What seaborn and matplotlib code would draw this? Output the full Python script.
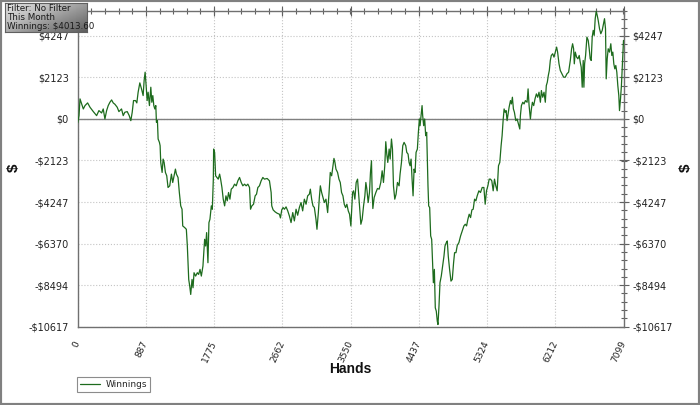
import numpy as np
import pandas as pd
import matplotlib
matplotlib.use("Agg")
import matplotlib.pyplot as plt
from matplotlib.ticker import FixedLocator, AutoMinorLocator
from matplotlib.patches import Rectangle
import seaborn as sns

# values (hands played, cumulative $ winnings)
hands = [0, 17, 30, 51, 73, 95, 129, 160, 203, 246, 276, 311, 332, 354, 376, 397, 419, 441,
         462, 484, 514, 536, 570, 592, 613, 644, 670, 691, 709, 726, 752, 769, 786, 808, 830,
         851, 864, 877, 890, 903, 916, 933, 951, 964, 977, 990, 1003, 1016, 1024, 1037, 1046,
         1063, 1072, 1080, 1098, 1111, 1124, 1141, 1158, 1175, 1197, 1219, 1236, 1253, 1271,
         1284, 1305, 1322, 1340, 1357, 1366, 1392, 1413,
         1426, 1444, 1457, 1470, 1487, 1500, 1513, 1534, 1556, 1573, 1591, 1608, 1629, 1651,
         1664, 1677, 1694, 1707, 1720, 1738, 1751, 1764, 1768, 1781, 1794, 1811, 1828, 1846,
         1859, 1876, 1893, 1911, 1928, 1945, 1962, 1980, 1997, 2019, 2040, 2062, 2083, 2105,
         2127, 2148, 2170, 2191, 2213, 2235, 2248, 2265, 2287, 2308, 2326, 2343, 2364, 2386,
         2408, 2429, 2464, 2494, 2516, 2524, 2542, 2568, 2594, 2624, 2637, 2654, 2671, 2689,
         2710, 2732, 2753, 2775, 2797, 2818, 2840, 2861, 2883,
         2905, 2926, 2948, 2970, 2991, 3013, 3026, 3043, 3060, 3078, 3099, 3112, 3130, 3143,
         3156, 3173, 3190, 3208, 3229, 3251, 3268, 3285, 3303, 3320, 3333, 3346, 3359, 3380,
         3398, 3415, 3432, 3450, 3467, 3484, 3501, 3519, 3536, 3553, 3562, 3575, 3588, 3605,
         3622, 3640, 3653, 3666, 3683, 3700, 3718, 3735, 3748, 3761, 3778, 3795, 3808, 3821,
         3830, 3839, 3856, 3878, 3899, 3921, 3942, 3960, 3977, 3994, 4007, 4020, 4033, 4051,
         4064, 4081, 4094, 4107, 4124, 4141, 4159, 4180, 4193, 4211, 4228, 4245,
         4267, 4280, 4297, 4310, 4323, 4336, 4349, 4362, 4375, 4388, 4401, 4418, 4431, 4444,
         4453, 4466, 4479, 4487, 4500, 4513, 4526, 4539, 4548, 4556, 4565, 4578, 4591, 4604,
         4617, 4626, 4639, 4651, 4664, 4677, 4686, 4699, 4712, 4729, 4747, 4764, 4777, 4794,
         4807, 4820, 4837, 4855, 4872, 4889, 4902, 4920, 4937, 4958, 4980, 5002, 5023, 5041,
         5058, 5075, 5092, 5110, 5127, 5144, 5162, 5179, 5196, 5218, 5239, 5261, 5283, 5300,
         5317, 5335, 5352, 5369, 5386, 5404, 5421, 5438, 5456, 5473, 5490, 5507, 5520, 5533,
         5546, 5559, 5572, 5585, 5598, 5611, 5629, 5641, 5654, 5667, 5680,
         5698, 5715, 5732, 5750, 5758, 5771, 5789, 5806, 5823, 5845, 5858, 5871, 5888, 5901,
         5914, 5931, 5948, 5966, 5983, 6000, 6018, 6031, 6048, 6065, 6082, 6095, 6108, 6121,
         6134, 6147, 6160, 6178, 6195, 6212, 6229, 6242, 6260, 6277, 6299, 6320, 6342, 6363,
         6385, 6407, 6424, 6437, 6450, 6459, 6472, 6489, 6506, 6523, 6536, 6549, 6562, 6575,
         6584, 6593, 6606, 6623, 6640, 6653, 6666, 6679, 6692, 6705, 6718, 6731, 6744, 6757,
         6770, 6787, 6804, 6822, 6839, 6852, 6865, 6874, 6887, 6900, 6917, 6934, 6947, 6960,
         6973, 6986, 6999, 7012, 7025, 7038, 7047, 7060, 7072, 7099]

winnings = [-200, 169, 1023, 766, 510, 681, 818, 596, 374, 169, 425, 305, 510, -2, 425, 681, 852,
            971, 818, 749, 596, 374, 510, 169, 340, 374, 169, -88, 340, 937, 937, 818, 1364, 1842,
            1535, 1193, 1962, 2389, 1706, 937, 1364, 681, 1620, 852, 1193, 681, 510, 681, -173,
            -88, -1027, -1198, -1369, -2223, -2735, -2052, -2223, -2735, -2906, -3504, -3418,
            -2821, -3248, -2906, -2564, -2821, -2992, -3760, -4443, -4614, -5468, -5553, -5639,
            -6493, -8201, -8542, -8969, -8201, -8628, -7859, -8030, -7859, -7945, -7688, -8030,
            -7517, -6151, -6493, -5809, -7347, -5297, -5126, -4443, -4614, -3077, -1539, -1710,
            -2906, -2991, -3077, -2820, -3077, -3504, -4101, -4443, -3931, -4187, -3760, -4101,
            -3589, -3504, -3333, -3418, -3162, -2991, -3247, -3418, -3333, -3418, -3333, -3504,
            -4614, -4443, -4358, -3931, -3845, -3504, -3418, -3162, -2991, -3077, -3042, -3162,
            -3760, -4443, -4648, -4750, -4819, -4870, -5058, -4648, -4528, -4614, -4494, -4699,
            -4955, -5297, -4785, -5212, -4614, -4921, -4528,
            -4272, -4699, -4101, -4358, -3931, -3845, -3589, -4101, -4443, -4528, -5126, -5639,
            -4785, -4016, -3418, -3760, -4016, -4272, -4101, -4785, -3845, -2735, -2906, -2393,
            -2018, -2223, -2564, -2735, -3077, -3247, -3760, -3931, -4358, -4528, -4358, -4699,
            -4870, -5468, -4785, -3760, -3674, -4101, -3247, -3077, -3760, -4443, -5382, -5126,
            -4443, -3931, -3247, -3589, -4272, -3760, -2735, -2137, -3760, -4580, -4016, -3760,
            -3555, -3589, -3247, -2650, -3247, -2393, -1164, -1796, -2223, -1539, -2052, -1027,
            -1539, -3418, -4101, -3845, -3247, -3418, -2820, -2223, -1369, -1198,
            -1369, -1710, -1796, -2223, -2393, -2052, -3077, -3931, -2564, -2735, -1710, -1539,
            -685, -2, -344, 169, 681, 169, -344, -2, -856, -685, -2223, -3418, -4443, -4528,
            -5980, -6151, -7517, -8371, -7688, -9652, -9823, -10336, -10506, -9567, -8371, -8030,
            -7517, -7005, -6493, -6322, -6236, -7020, -7688, -8286, -8201, -7347, -6834, -6834,
            -6458, -6322, -5980, -5724, -5468, -5382, -5468, -5126, -4870, -5041, -4648, -4614,
            -4101, -4187, -3931, -3674, -3760, -3504, -3504, -4358, -3674, -3418, -3077, -3077,
            -3162, -3674, -3077, -3418, -3674, -2393, -2223, -1369, -856, -88, 510, 340, 425,
            -88, 254, 596, 937, 766, 1108, 510, 340,
            -88, -2, -258, -515, 169, 681, 852, 766, 937, 852, 1535, 681, -2, 510, 852, 681,
            1023, 1279, 1108, 1364, 852, 1450, 1108, 1364, 852, 1706, 1877, 2218, 2474, 2987,
            3243, 3329, 3158, 3414, 3670, 3414, 2816, 2474, 2304, 2133, 2133, 2304, 2389, 2987,
            3585, 3841, 3585, 2816, 3414, 3158, 3072, 3243, 2901, 2645, 1620, 2987, 1620, 2816,
            3243, 4182, 4012, 3585, 3072, 2987, 4182, 4524, 4268, 5122, 5498, 5293, 5036, 4609,
            4353, 4524, 4866, 5122, 4609, 2047, 3072, 3585, 3414, 3841, 3243, 3414, 2816, 2560,
            2731, 2389, 1706, 1193, 425, 1023, 1706, 4013.60]

x_ticks = [0, 887, 1775, 2662, 3550, 4437, 5324, 6212, 7099]
y_ticks = [-10617, -8494, -6370, -4247, -2123, 0, 2123, 4247]
y_top = 5530
info_lines = ["Filter: No Filter", "This Month", "Winnings: $4013.60"]

df = pd.DataFrame({"Hands": hands, "Winnings": winnings})

sns.set_style("white")
plt.rcParams["font.family"] = ["DejaVu Sans"]

fig = plt.figure(figsize=(7, 4.05), dpi=100)
ax = fig.add_axes([77.7 / 700, 1 - 326.7 / 405, (623.5 - 77.7) / 700, (326.7 - 10.7) / 405])

ax.axhline(0, color="#808080", lw=1, zorder=1)
sns.lineplot(data=df, x="Hands", y="Winnings", color="#1d6b1d", lw=0.9,
             estimator=None, sort=False, label="Winnings", ax=ax, zorder=3)

ax.set_xlim(0, 7099)
ax.set_ylim(-10617, y_top)

def money(v):
    return "$%d" % v if v >= 0 else "-$%d" % abs(v)

ax.xaxis.set_major_locator(FixedLocator(x_ticks))
ax.yaxis.set_major_locator(FixedLocator(y_ticks))
ax.set_xticklabels([str(t) for t in x_ticks], rotation=65, ha="right", va="center",
                   rotation_mode="anchor", fontsize=6.5, color="#222222")
ax.set_yticklabels([money(t) for t in y_ticks], fontsize=7, color="#222222")
ax.xaxis.set_minor_locator(AutoMinorLocator(5))
ax.yaxis.set_minor_locator(AutoMinorLocator(5))
ax.tick_params(which="both", direction="inout", colors="#606060", labelcolor="#222222",
               top=True, right=True, labelright=True, width=0.8)
ax.tick_params(which="major", length=7)
ax.tick_params(which="minor", length=4)
ax.tick_params(axis="y", which="major", pad=3)
ax.tick_params(axis="x", which="major", pad=7)

ax.grid(True, which="major", linestyle=":", color="#c4c4c4", lw=0.8, zorder=0)
for s in ax.spines.values():
    s.set_color("#707070")
    s.set_linewidth(1)

ax.set_xlabel("")
ax.set_ylabel("")
lab = dict(fontfamily="Liberation Sans", fontweight="bold", color="#111111")
fig.text(350 / 700, 1 - 369 / 405, "Hands", ha="center", va="center", fontsize=10, **lab)
fig.text(14 / 700, 1 - 168 / 405, "$", rotation=90, ha="center", va="center", fontsize=11, **lab)
fig.text(686 / 700, 1 - 168 / 405, "$", rotation=90, ha="center", va="center", fontsize=11, **lab)

leg = ax.legend(loc="lower left", bbox_to_anchor=(77 / 700, 13 / 405), bbox_transform=fig.transFigure,
                fancybox=False, frameon=True, edgecolor="#707070", fontsize=6.5, handlelength=2.2,
                borderpad=0.35, handletextpad=0.6, borderaxespad=0)
leg.get_frame().set_linewidth(0.8)

# info box with grey gradient, top-left
box = fig.add_axes([5 / 700, 1 - 32 / 405, 82 / 700, 29 / 405])
gx, gy = np.meshgrid(np.linspace(0, 1, 60), np.linspace(0, 1, 30))
box.imshow(0.55 * gx + 0.45 * gy, cmap="Greys", vmin=-0.4, vmax=1.6, aspect="auto",
           extent=[0, 1, 0, 1])
box.set_xticks([])
box.set_yticks([])
for s in box.spines.values():
    s.set_color("#606060")
    s.set_linewidth(0.8)
for i, t in enumerate(info_lines):
    box.text(0.03, 0.82 - i * 0.31, t, transform=box.transAxes, fontsize=6.3,
             color="#1a1a1a", va="center", ha="left")

fig.patches.append(Rectangle((0, 0), 1, 1, transform=fig.transFigure, fill=False,
                             ec="#808080", lw=3))

fig.savefig("out.png", dpi=100, facecolor="white")
